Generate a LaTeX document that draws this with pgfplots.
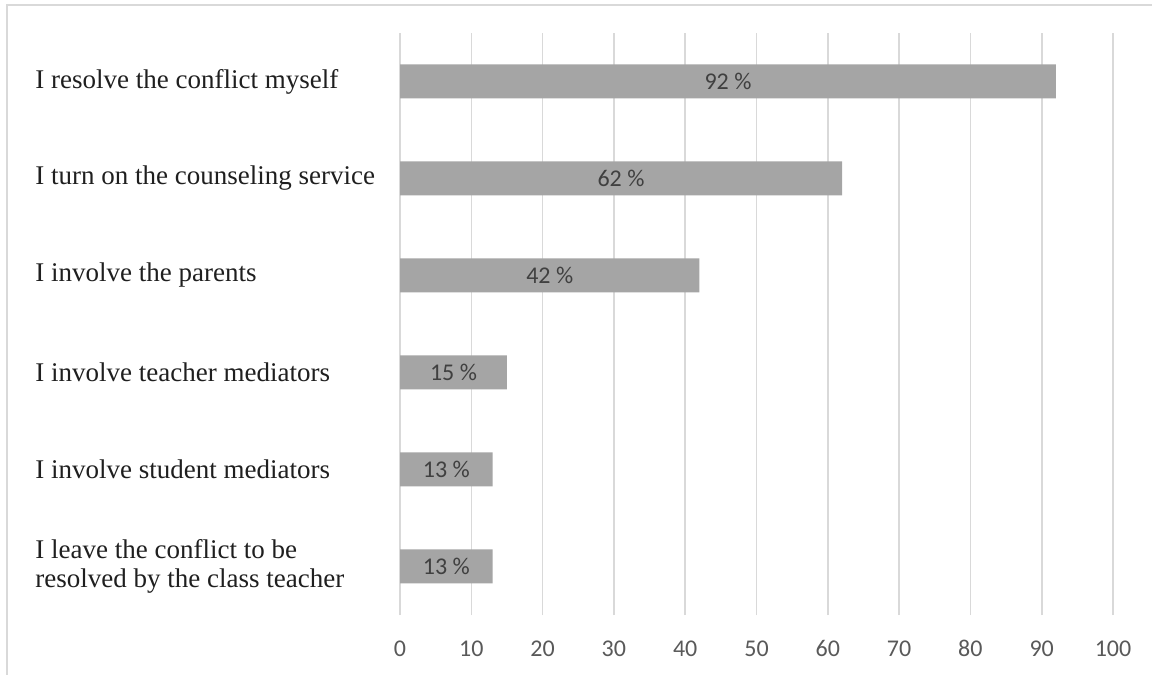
\documentclass[border=0pt]{standalone}
\usepackage{fontspec}
\setmainfont{Liberation Serif}
\newfontfamily\carlito{Carlito}
\usepackage{pgfplots}
\pgfplotsset{compat=1.18}
\usepackage{pgfplotstable}
\definecolor{bargray}{HTML}{A5A5A5}
\definecolor{gridgray}{HTML}{D9D9D9}
\definecolor{ticktext}{HTML}{595959}
\definecolor{valtext}{HTML}{404040}
\pgfplotstableread{
idx val
0 13
1 13
2 15
3 42
4 62
5 92
}\datatab
\begin{document}
\begin{tikzpicture}
\path[use as bounding box] (0,0) rectangle (576bp,337.5bp);
\draw[gridgray, line width=0.8bp] (3.5bp,0) -- (3.5bp,335bp) -- (576bp,335bp);
\begin{axis}[
  at={(200bp,30bp)}, anchor=south west,
  scale only axis, width=356.5bp, height=291bp,
  xmin=0, xmax=100, ymin=-0.5, ymax=5.5,
  xtick={0,10,...,100}, ytick={0,...,5},
  yticklabels={{I leave the conflict to be\\resolved by the class teacher}, I involve student mediators, I involve teacher mediators, I involve the parents, I turn on the counseling service, I resolve the conflict myself},
  axis line style={draw=none},
  major tick length=0pt,
  xmajorgrids, grid style={gridgray, line width=0.8bp},
  yticklabel style={align=left, anchor=west, inner sep=0pt, xshift=-182.5bp, font=\fontsize{13.5bp}{14.5bp}\selectfont, text=black!88},
  xticklabel style={font=\carlito\fontsize{12bp}{13bp}\selectfont, text=ticktext, inner sep=0pt, anchor=base, yshift=-20.5bp},
  /pgf/number format/assume math mode=true,
  clip=false,
]
\addplot[xbar, bar width=17bp, fill=bargray, draw=none] table[x=val, y=idx] {\datatab};
\addplot[draw=none, mark=none, point meta=explicit,
  nodes near coords={\pgfmathprintnumber{\pgfplotspointmeta}~\%},
  nodes near coords style={anchor=center, inner sep=0pt, font=\carlito\fontsize{12bp}{13bp}\selectfont, text=valtext}]
  table[x expr=\thisrow{val}/2, y=idx, meta=val] {\datatab};
\end{axis}
\end{tikzpicture}
\end{document}
